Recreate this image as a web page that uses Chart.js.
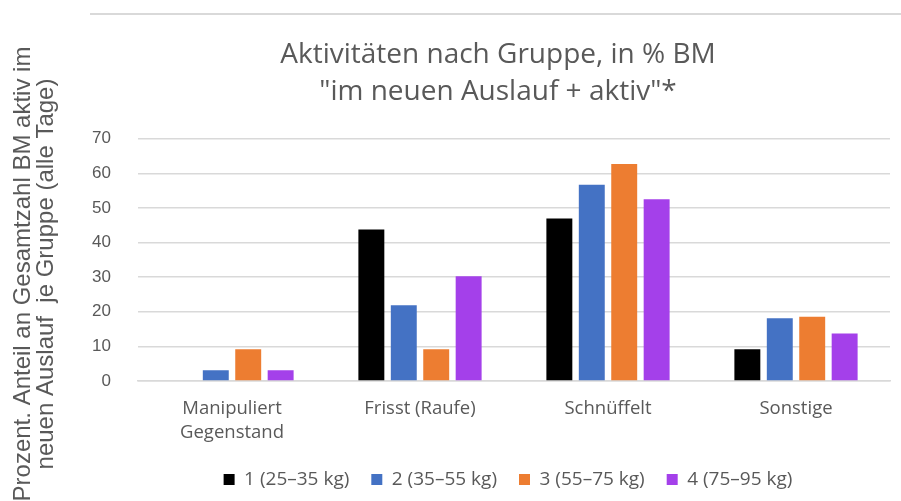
<!DOCTYPE html>
<html>
<head>
<meta charset="utf-8">
<script src="https://cdn.jsdelivr.net/npm/chart.js@4"></script>
<style>
  html, body { margin: 0; padding: 0; background: #fff; }
  #wrap { width: 901px; height: 501px; position: relative; }
</style>
</head>
<body>
<div id="wrap"><canvas id="myChart" width="901" height="501"></canvas></div>
<script>
// <------------------------------- chart data ------------------------------->
const categories = [['Manipuliert', 'Gegenstand'], 'Frisst (Raufe)', 'Schnüffelt', 'Sonstige'];
const groupNames = ['1 (25–35 kg)', '2 (35–55 kg)', '3 (55–75 kg)', '4 (75–95 kg)'];
const group1 = [0, 43.8, 47.0, 9.2];
const group2 = [3.1, 21.9, 56.7, 18.1];
const group3 = [9.2, 9.2, 62.7, 18.6];
const group4 = [3.1, 30.3, 52.5, 13.7];
const yTicks = [0, 10, 20, 30, 40, 50, 60, 70];
const yTitle = ['Prozent. Anteil an Gesamtzahl BM aktiv im', 'neuen Auslauf  je Gruppe (alle Tage)'];

const colors = ['#000000', '#4472C4', '#ED7D31', '#A440EA'];
const textGrey = '#595959';
const labelFont = '"Open Sans", Lato, sans-serif';
const arialFont = '"Liberation Sans", Arial, sans-serif';

// frame line on top, rotated y title, and re-centering of title + legend
const extras = {
    id: 'extras',
    afterLayout(chart) {
        if (chart.titleBlock) {
            chart.titleBlock.left = 106;
            chart.titleBlock.right = 890;
        }
        if (chart.legend) {
            chart.legend.left = 126;
            chart.legend.right = 890;
        }
    },
    beforeDraw(chart) {
        const ctx = chart.ctx;
        ctx.save();
        ctx.strokeStyle = '#d9d9d9';
        ctx.lineWidth = 2;
        ctx.beginPath();
        ctx.moveTo(90, 14);
        ctx.lineTo(901, 14);
        ctx.stroke();
        ctx.restore();
    },
    afterDraw(chart) {
        const ctx = chart.ctx;
        ctx.save();
        ctx.fillStyle = textGrey;
        ctx.font = '24px ' + arialFont;
        ctx.textAlign = 'center';
        ctx.textBaseline = 'middle';
        const xs = [23, 46];
        for (let i = 0; i < yTitle.length; i++) {
            ctx.save();
            ctx.translate(xs[i], 274);
            ctx.rotate(-Math.PI / 2);
            ctx.fillText(yTitle[i], 0, 0);
            ctx.restore();
        }
        ctx.restore();
    }
};

const seriesValues = [group1, group2, group3, group4];
const datasets = seriesValues.map((vals, i) => ({
    label: groupNames[i],
    data: vals,
    backgroundColor: colors[i],
    borderWidth: 0,
    barPercentage: 0.8,
    categoryPercentage: 0.69
}));

const ctx = document.getElementById('myChart').getContext('2d');
const myChart = new Chart(ctx, {
    type: 'bar',
    data: { labels: categories, datasets: datasets },
    options: {
        responsive: false,
        animation: false,
        layout: { padding: { left: 0, right: 11, top: 17, bottom: 3 } },
        plugins: {
            title: {
                display: true,
                text: ['Aktivitäten nach Gruppe, in % BM', '"im neuen Auslauf + aktiv"*'],
                color: textGrey,
                font: { family: labelFont, size: 28, weight: 'normal', lineHeight: 1.3 },
                padding: { top: 20, bottom: 29 }
            },
            legend: {
                position: 'bottom',
                maxHeight: 50,
                labels: {
                    color: textGrey,
                    font: { family: labelFont, size: 19 },
                    boxWidth: 11,
                    boxHeight: 11,
                    padding: 22
                }
            },
            tooltip: { enabled: false }
        },
        scales: {
            x: {
                grid: { display: false },
                border: { color: '#d9d9d9', width: 1.5 },
                afterFit(scale) {
                    scale.height = 67;
                },
                ticks: {
                    color: textGrey,
                    font: { family: labelFont, size: 18.5, lineHeight: 1.3 },
                    padding: 8,
                    maxRotation: 0
                }
            },
            y: {
                min: 0,
                max: 70,
                afterBuildTicks(scale) {
                    scale.ticks = yTicks.map(v => ({ value: v }));
                },
                afterFit(scale) {
                    scale.width = 138;
                },
                grid: { color: '#d9d9d9', lineWidth: 1.5, drawTicks: false },
                border: { display: false },
                ticks: {
                    color: textGrey,
                    font: { family: arialFont, size: 17 },
                    padding: 27
                }
            }
        }
    },
    plugins: [extras]
});
</script>
</body>
</html>
